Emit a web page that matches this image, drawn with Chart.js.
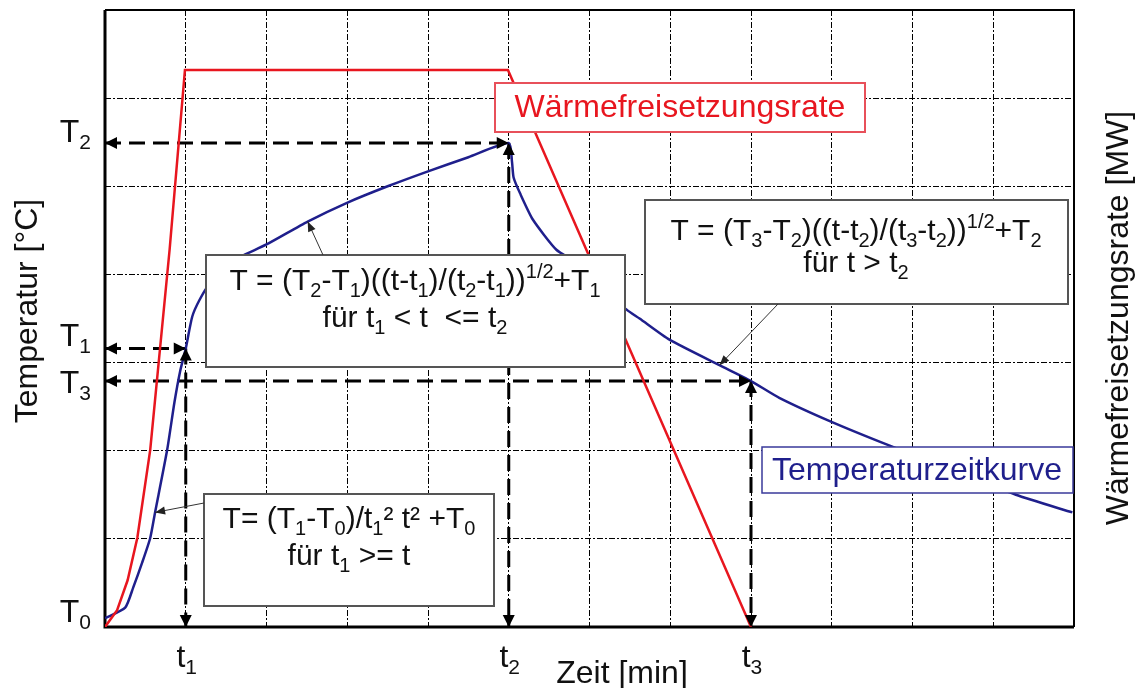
<!DOCTYPE html>
<html><head><meta charset="utf-8">
<script src="https://cdn.jsdelivr.net/npm/chart.js@4.4.1/dist/chart.umd.min.js"></script>
<style>html,body{margin:0;padding:0;background:#fff;}#wrap{width:1135px;height:688px;position:relative;}</style>
</head><body><div id="wrap"><canvas id="c" width="1135" height="688"></canvas></div>
<script>
// ---- data (axis units: time 0..12 grid steps, temperature 0..7 grid steps) ----
const timeMarkNames = ['1', '2', '3'];            // t1, t2, t3
const timeMarks = [1.0, 5.0, 8.0];
const tempMarkNames = ['0', '1', '2', '3'];       // T0, T1, T2, T3
const tempMarks = [0.10, 3.16, 5.49, 2.79];

const hrrTime  = [0, 0.15, 0.28, 0.40, 0.56, 0.80, 0.99, 4.99, 8.00];
const hrrValue = [0, 0.19, 0.53, 1.01, 2.01, 4.28, 6.32, 6.32, 0];

const tempTime  = [0, 0.25, 0.35, 0.46, 0.56, 0.62, 0.77, 0.86, 0.93, 1.00, 1.08, 1.17, 1.30, 1.55, 2.00, 2.51, 2.99, 3.50, 4.00, 4.50, 5.00, 5.04, 5.06, 5.14, 5.30, 5.59, 5.84, 6.46, 6.62, 6.99, 7.61, 8.00, 8.35, 8.99, 9.71, 11.28, 11.98];
const tempValue = [0.10, 0.22, 0.45, 0.73, 1.01, 1.30, 2.01, 2.55, 2.90, 3.16, 3.52, 3.71, 3.90, 4.14, 4.34, 4.60, 4.81, 5.00, 5.17, 5.33, 5.49, 5.28, 5.10, 4.92, 4.62, 4.28, 4.13, 3.60, 3.50, 3.26, 2.97, 2.79, 2.60, 2.33, 2.06, 1.50, 1.30];

const xMax = 12, yMax = 7;

// ---- styling ----
const FONT = '"Liberation Sans", Arial, sans-serif';
const RED = '#e8161f', NAVY = '#1f1f8c';
const tempLabelDy = [4, -2, -1, 12];

const hrrData = hrrTime.map((t, i) => ({x: t, y: hrrValue[i]}));
const tempData = tempTime.map((t, i) => ({x: t, y: tempValue[i]}));

function dashed(points) {
  return {type: 'line', data: points, borderColor: '#000', borderWidth: 3, borderDash: [16, 8],
          pointRadius: 0, fill: false, clip: false, tension: 0, isArrow: true};
}
const T = tempMarks, tm = timeMarks;
const arrows = [
  dashed([{x: 0, y: T[1]}, {x: tm[0], y: T[1]}]),
  dashed([{x: 0, y: T[2]}, {x: tm[1], y: T[2]}]),
  dashed([{x: 0, y: T[3]}, {x: tm[2], y: T[3]}]),
  dashed([{x: tm[0], y: T[1]}, {x: tm[0], y: 0}]),
  dashed([{x: tm[1], y: T[2]}, {x: tm[1], y: 0}]),
  dashed([{x: tm[2], y: T[3]}, {x: tm[2], y: 0}])
];

// rich text: segments [text, kind] kind 0 normal, 1 subscript, 2 superscript
function segFont(kind, size) { return (kind === 0 ? size : Math.round(size * 0.66)) + 'px ' + FONT; }
function richWidth(ctx, segs, size) {
  let w = 0;
  for (const [s, k] of segs) { ctx.font = segFont(k, size); w += ctx.measureText(s).width; }
  return w;
}
function drawRich(ctx, segs, x, base, size, color, align) {
  const w = richWidth(ctx, segs, size);
  let cx = align === 'center' ? x - w / 2 : (align === 'right' ? x - w : x);
  ctx.fillStyle = color; ctx.textAlign = 'left'; ctx.textBaseline = 'alphabetic';
  for (const [s, k] of segs) {
    ctx.font = segFont(k, size);
    const dy = k === 1 ? 7 : (k === 2 ? -12 : 0);
    ctx.fillText(s, cx, base + dy);
    cx += ctx.measureText(s).width;
  }
}
function arrowHead(ctx, tipX, tipY, fromX, fromY, len, half, color) {
  const a = Math.atan2(tipY - fromY, tipX - fromX);
  ctx.save(); ctx.translate(tipX, tipY); ctx.rotate(a);
  ctx.beginPath(); ctx.moveTo(0, 0); ctx.lineTo(-len, -half); ctx.lineTo(-len, half); ctx.closePath();
  ctx.fillStyle = color; ctx.fill(); ctx.restore();
}
function box(ctx, x1, y1, x2, y2, stroke, lw) {
  ctx.save(); ctx.fillStyle = '#fff'; ctx.fillRect(x1, y1, x2 - x1, y2 - y1);
  ctx.strokeStyle = stroke; ctx.lineWidth = lw; ctx.strokeRect(x1, y1, x2 - x1, y2 - y1); ctx.restore();
}

const overlay = {
  id: 'overlay',
  beforeDatasetsDraw(chart) {
    const {ctx, chartArea: a} = chart;
    ctx.save(); ctx.strokeStyle = '#000';
    ctx.lineWidth = 2; ctx.beginPath();
    ctx.moveTo(a.left, a.top); ctx.lineTo(a.right, a.top); ctx.lineTo(a.right, a.bottom); ctx.stroke();
    ctx.lineWidth = 3; ctx.beginPath();
    ctx.moveTo(a.left, a.top); ctx.lineTo(a.left, a.bottom); ctx.lineTo(a.right, a.bottom); ctx.stroke();
    ctx.restore();
  },
  afterDatasetsDraw(chart) {
    const {ctx, chartArea: a, scales} = chart;
    const xs = scales.x, ys = scales.y;
    // arrowheads on dashed guide lines
    chart.data.datasets.forEach((ds, i) => {
      if (!ds.isArrow) return;
      const p = chart.getDatasetMeta(i).data;
      arrowHead(ctx, p[0].x, p[0].y, p[1].x, p[1].y, 12, 6, '#000');
      arrowHead(ctx, p[1].x, p[1].y, p[0].x, p[0].y, 12, 6, '#000');
    });
    // annotation boxes
    box(ctx, 495, 83, 865, 132, '#e8505a', 2);
    box(ctx, 206, 255, 625, 367, '#555', 2);
    box(ctx, 645, 200, 1068, 304, '#555', 2);
    box(ctx, 762, 447, 1073, 493, '#3a3a9a', 1.5);
    box(ctx, 204, 494, 494, 606, '#555', 2);
    // leader arrows to temperature curve
    const blue = chart.getDatasetMeta(1).data;
    const leaders = [[323, 255, tempTime.indexOf(2.51)], [778, 304, tempTime.indexOf(7.61)], [204, 503, tempTime.indexOf(0.62)]];
    ctx.save(); ctx.strokeStyle = '#333'; ctx.lineWidth = 1;
    for (const [sx, sy, idx] of leaders) {
      const p = blue[idx];
      ctx.beginPath(); ctx.moveTo(sx, sy); ctx.lineTo(p.x, p.y); ctx.stroke();
      arrowHead(ctx, p.x, p.y, sx, sy, 10, 4, '#222');
    }
    ctx.restore();
    // box texts
    const S = 32, K = '#111';
    drawRich(ctx, [['Wärmefreisetzungsrate', 0]], 680, 117, S, RED, 'center');
    drawRich(ctx, [['Temperaturzeitkurve', 0]], 917, 480, S, NAVY, 'center');
    drawRich(ctx, [['T = (T', 0], ['2', 1], ['-T', 0], ['1', 1], [')((t-t', 0], ['1', 1], [')/(t', 0], ['2', 1], ['-t', 0], ['1', 1], ['))', 0], ['1/2', 2], ['+T', 0], ['1', 1]], 415, 290, 30, K, 'center');
    drawRich(ctx, [['für t', 0], ['1', 1], [' < t  <= t', 0], ['2', 1]], 415, 327, 30, K, 'center');
    drawRich(ctx, [['T = (T', 0], ['3', 1], ['-T', 0], ['2', 1], [')((t-t', 0], ['2', 1], [')/(t', 0], ['3', 1], ['-t', 0], ['2', 1], ['))', 0], ['1/2', 2], ['+T', 0], ['2', 1]], 856, 240, 30, K, 'center');
    drawRich(ctx, [['für t > t', 0], ['2', 1]], 856, 272, 30, K, 'center');
    drawRich(ctx, [['T= (T', 0], ['1', 1], ['-T', 0], ['0', 1], [')/t', 0], ['1', 1], ['² t² +T', 0], ['0', 1]], 349, 528, 30, K, 'center');
    drawRich(ctx, [['für t', 0], ['1', 1], [' >= t', 0]], 349, 565, 30, K, 'center');
    // axis marks
    tempMarks.forEach((v, i) => {
      drawRich(ctx, [['T', 0], [tempMarkNames[i], 1]], 91, ys.getPixelForValue(v) + tempLabelDy[i], S, '#111', 'right');
    });
    timeMarks.forEach((v, i) => {
      drawRich(ctx, [['t', 0], [timeMarkNames[i], 1]], xs.getPixelForValue(v) + 1, 667, S, '#111', 'center');
    });
    // axis titles
    ctx.save(); ctx.fillStyle = '#111'; ctx.font = S + 'px ' + FONT; ctx.textBaseline = 'alphabetic'; ctx.textAlign = 'center';
    ctx.fillText('Zeit [min]', 622, 683);
    ctx.translate(37, 311); ctx.rotate(-Math.PI / 2); ctx.fillText('Temperatur [°C]', 0, 0);
    ctx.restore();
    ctx.save(); ctx.fillStyle = '#111'; ctx.font = S + 'px ' + FONT; ctx.textAlign = 'center';
    ctx.translate(1128, 318); ctx.rotate(-Math.PI / 2); ctx.fillText('Wärmefreisetzungsrate [MW]', 0, 0);
    ctx.restore();
  }
};

const gridCfg = {color: '#000', lineWidth: 1, drawTicks: false};
new Chart(document.getElementById('c'), {
  type: 'line',
  data: {
    datasets: [
      {label: 'Wärmefreisetzungsrate', data: hrrData, yAxisID: 'y2', borderColor: RED, borderWidth: 2.5, pointRadius: 0, tension: 0, fill: false},
      {label: 'Temperaturzeitkurve', data: tempData, yAxisID: 'y', borderColor: NAVY, borderWidth: 2.5, pointRadius: 0, tension: 0.2, fill: false},
      ...arrows
    ]
  },
  options: {
    responsive: false, animation: false, devicePixelRatio: 1,
    layout: {padding: {left: 105, top: 10, right: 61, bottom: 61}},
    plugins: {legend: {display: false}, tooltip: {enabled: false}},
    scales: {
      x: {type: 'linear', min: 0, max: xMax, ticks: {display: false, stepSize: 1}, grid: gridCfg, border: {display: false, dash: [6, 2, 2, 2]}},
      y: {type: 'linear', min: 0, max: yMax, ticks: {display: false, stepSize: 1}, grid: gridCfg, border: {display: false, dash: [6, 2, 2, 2]}},
      y2: {type: 'linear', position: 'right', min: 0, max: yMax, display: false}
    }
  },
  plugins: [overlay]
});
</script></body></html>
